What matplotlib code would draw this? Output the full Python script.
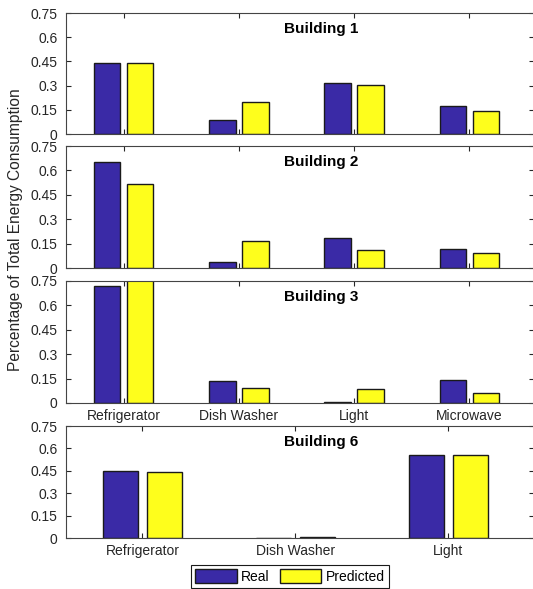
import numpy as np
import matplotlib
matplotlib.use("Agg")
import matplotlib.pyplot as plt
from matplotlib.patches import Patch

plt.rcParams['font.family'] = ['Liberation Sans', 'DejaVu Sans']

# values
appliances_4 = ['Refrigerator', 'Dish Washer', 'Light', 'Microwave']
appliances_3 = ['Refrigerator', 'Dish Washer', 'Light']

b1_real = [0.438, 0.087, 0.316, 0.174]
b1_pred = [0.442, 0.196, 0.306, 0.143]
b2_real = [0.650, 0.039, 0.185, 0.114]
b2_pred = [0.514, 0.167, 0.110, 0.092]
b3_real = [0.721, 0.133, 0.004, 0.141]
b3_pred = [0.780, 0.092, 0.084, 0.061]
b6_real = [0.446, 0.002, 0.555]
b6_pred = [0.444, 0.009, 0.555]

yticks = [0, 0.15, 0.3, 0.45, 0.6, 0.75]
ytick_labels = ['0', '0.15', '0.3', '0.45', '0.6', '0.75']

blue = '#3a2aa6'
yellow = '#fefe1c'
axc = '#262626'

panels = [
    ('Building 1', appliances_4, b1_real, b1_pred, False, (13, 134)),
    ('Building 2', appliances_4, b2_real, b2_pred, False, (146, 268)),
    ('Building 3', appliances_4, b3_real, b3_pred, True, (281, 403)),
    ('Building 6', appliances_3, b6_real, b6_pred, True, (426, 538)),
]

W, H = 533, 589
fig = plt.figure(figsize=(W / 100, H / 100), dpi=100)

for title, cats, real, pred, show_labels, (top, bot) in panels:
    ax = fig.add_axes([66 / W, 1 - bot / H, 468 / W, (bot - top) / H])
    x = np.arange(1, len(cats) + 1)
    ax.bar(x - 0.143, real, width=0.23, color=blue, edgecolor='#1a1a1a', linewidth=1)
    ax.bar(x + 0.143, pred, width=0.23, color=yellow, edgecolor='#1a1a1a', linewidth=1)
    ax.set_xlim(0.5, len(cats) + 0.56)
    ax.set_ylim(0, 0.75)
    ax.set_yticks(yticks)
    ax.set_yticklabels(ytick_labels)
    ax.set_xticks(x)
    if show_labels:
        ax.set_xticklabels(cats)
    else:
        ax.set_xticklabels([])
    ax.tick_params(direction='in', top=True, right=True, length=3.5, width=0.8,
                   colors=axc, labelsize=10)
    ax.tick_params(axis='y', pad=6)
    ax.tick_params(axis='x', pad=4)
    for s in ax.spines.values():
        s.set_color('#444444')
        s.set_linewidth(0.8)
    ax.annotate(title, xy=(0.546, 1), xycoords='axes fraction',
                xytext=(0, -16), textcoords='offset pixels',
                ha='center', va='center', fontsize=11, fontweight='bold')

fig.text(16 / W, 1 - 229.5 / H, 'Percentage of Total Energy Consumption',
         rotation=90, ha='center', va='center', fontsize=11.2, color=axc)

handles = [Patch(facecolor=blue, edgecolor='#1a1a1a', label='Real'),
           Patch(facecolor=yellow, edgecolor='#1a1a1a', label='Predicted')]
leg = fig.legend(handles=handles, loc='center', bbox_to_anchor=(0.544, 0.0212),
                 ncol=2, fontsize=10, fancybox=False, framealpha=1,
                 handlelength=3.0, handleheight=1.1, handletextpad=0.3,
                 columnspacing=0.7, borderpad=0.3, borderaxespad=0)
leg.get_frame().set_edgecolor('#1a1a1a')
leg.get_frame().set_linewidth(0.8)

fig.savefig('out.png', dpi=100)
